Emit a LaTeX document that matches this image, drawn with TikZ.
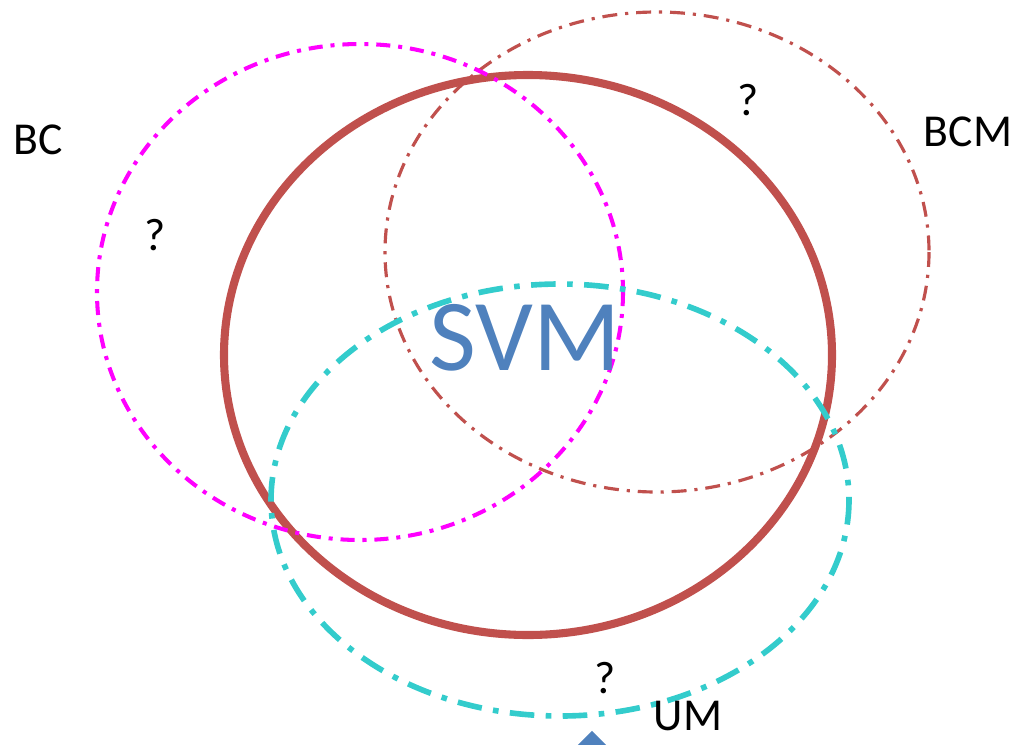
\documentclass[tikz,border=0pt]{standalone}
\usepackage{fontspec}
\setmainfont{Carlito}
\usetikzlibrary{shapes.geometric}
\definecolor{bcmag}{HTML}{FF00FF}
\definecolor{bcmred}{HTML}{C0504D}
\definecolor{umcyan}{HTML}{33CCCC}
\definecolor{svmblue}{HTML}{4F81BD}
\tikzset{
  bcline/.style={draw=bcmag, line width=2.3pt, dash pattern=on 8pt off 4.5pt on 2.3pt off 4.5pt},
  bcmline/.style={draw=bcmred, line width=1.8pt, dash pattern=on 8.5pt off 4.5pt on 1.8pt off 4.5pt},
  umline/.style={draw=umcyan, line width=3.2pt, dash pattern=on 14pt off 6.5pt on 3.2pt off 6.5pt},
  svmline/.style={draw=bcmred, line width=4.6pt},
  lbl/.style={font=\fontsize{26}{30}\selectfont, text=black, inner sep=0pt},
  qm/.style={font=\fontsize{26}{30}\selectfont, text=black, inner sep=0pt},
}
\begin{document}
\begin{tikzpicture}[x=0.02cm, y=-0.02cm]
\useasboundingbox (0,0) rectangle (1017,744);
\clip (0,0) rectangle (1017,744);
\draw[svmline] (528,355) ellipse [x radius=304, y radius=280];
\draw[bcmline] (657,252) ellipse [x radius=272, y radius=240];
\draw[bcline] (360,292) ellipse [x radius=263, y radius=248];
\draw[umline] (560,500) ellipse [x radius=289, y radius=216];
\node[text=svmblue, font=\fontsize{58}{64}\selectfont, inner sep=0pt] (svm) at (525,338) {SVM};
\node[lbl] (bc) at (38,140) {BC};
\node[lbl] (bcm) at (968,132) {BCM};
\node[lbl] (um) at (688,716) {UM};
\node[qm] (q1) at (155,235) {?};
\node[qm] (q2) at (748,100) {?};
\node[qm] (q3) at (605,678) {?};
\node[diamond, fill=svmblue, minimum width=22pt, minimum height=22pt, inner sep=0pt] (dia) at (592,750) {};
\end{tikzpicture}
\end{document}
